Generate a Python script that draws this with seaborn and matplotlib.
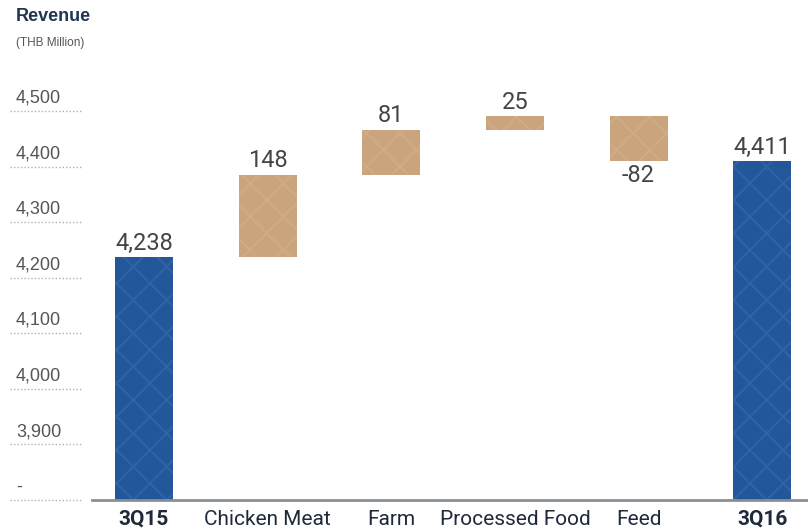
import matplotlib.pyplot as plt
import matplotlib.transforms as mtransforms
import seaborn as sns
import pandas as pd

# waterfall data (THB Million)
categories = ['3Q15', 'Chicken Meat', 'Farm', 'Processed Food', 'Feed', '3Q16']
changes = [4238, 148, 81, 25, -82, 4411]
is_total = [True, False, False, False, False, True]
label_texts = ['4,238', '148', '81', '25', '-82', '4,411']
y_ticks = [3800, 3900, 4000, 4100, 4200, 4300, 4400, 4500]
y_tick_labels = ['-', '3,900', '4,000', '4,100', '4,200', '4,300', '4,400', '4,500']

BASE = 3800
BLUE = '#24579a'
TAN = '#c9a47c'
NARROW = ['Roboto', 'DejaVu Sans']

# compute bar bottoms / tops
bottoms, heights = [], []
running = 0
for val, tot in zip(changes, is_total):
    if tot:
        bottoms.append(BASE)
        heights.append(val - BASE)
        running = val
    else:
        start = running
        running = running + val
        bottoms.append(min(start, running))
        heights.append(abs(val))

df = pd.DataFrame({'category': categories, 'bottom': bottoms, 'height': heights,
                   'total': is_total, 'label': label_texts, 'change': changes})

sns.set_style('white')
plt.rcParams['font.family'] = ['Liberation Sans', 'DejaVu Sans']
plt.rcParams['hatch.linewidth'] = 1.5

fig = plt.figure(figsize=(8.08, 5.29), dpi=100)
ax = fig.add_axes([92 / 808, 29 / 529, 1 - 92 / 808, (500 - 78) / 529])

colors = [BLUE if t else TAN for t in df['total']]
edges = ['#2f63a6' if t else '#d0ac86' for t in df['total']]
bars = ax.bar(range(len(df)), df['height'], bottom=df['bottom'], width=0.47,
              color=colors, linewidth=0, hatch='x')
for b, ec in zip(bars, edges):
    b.set_edgecolor(ec)

# value labels
for i, row in df.iterrows():
    if row['change'] < 0 and not row['total']:
        ax.text(i, row['bottom'] - 4, row['label'], ha='center', va='top',
                fontsize=17, color='#444444', family=NARROW)
    else:
        ax.text(i, row['bottom'] + row['height'] + 4, row['label'], ha='center', va='bottom',
                fontsize=17, color='#444444', family=NARROW)

ax.set_xlim(-0.42, len(df) - 0.63)
ax.set_ylim(BASE, 4560)
ax.set_xticks(range(len(df)))
ax.set_xticklabels(df['category'], family=NARROW, fontsize=15, color='#1e2a3a')
for lab, tot in zip(ax.get_xticklabels(), df['total']):
    if tot:
        lab.set_fontweight('bold')
ax.tick_params(axis='x', length=0, pad=7)
ax.set_yticks([])

for s in ['top', 'right', 'left']:
    ax.spines[s].set_visible(False)
ax.spines['bottom'].set_color('#8a8f96')
ax.spines['bottom'].set_linewidth(2)

# y tick labels with dotted underline in the left margin
trans = mtransforms.blended_transform_factory(fig.transFigure, ax.transData)
for v, lab in zip(y_ticks, y_tick_labels):
    ax.plot([10 / 808, 82 / 808], [v, v], transform=trans, color='#b0b0b0',
            linestyle=(0, (1, 1.5)), linewidth=1, clip_on=False)
    ax.text(16 / 808, v + 8, lab, transform=trans, ha='left', va='bottom',
            fontsize=13, color='#555555', clip_on=False)

fig.text(16 / 808, 1 - 8 / 529, 'Revenue', ha='left', va='top', fontsize=13,
         fontweight='bold', color='#1f3550')
fig.text(16 / 808, 1 - 37 / 529, '(THB Million)', ha='left', va='top', fontsize=8.5,
         color='#555555')

fig.savefig('out.png', dpi=100)
